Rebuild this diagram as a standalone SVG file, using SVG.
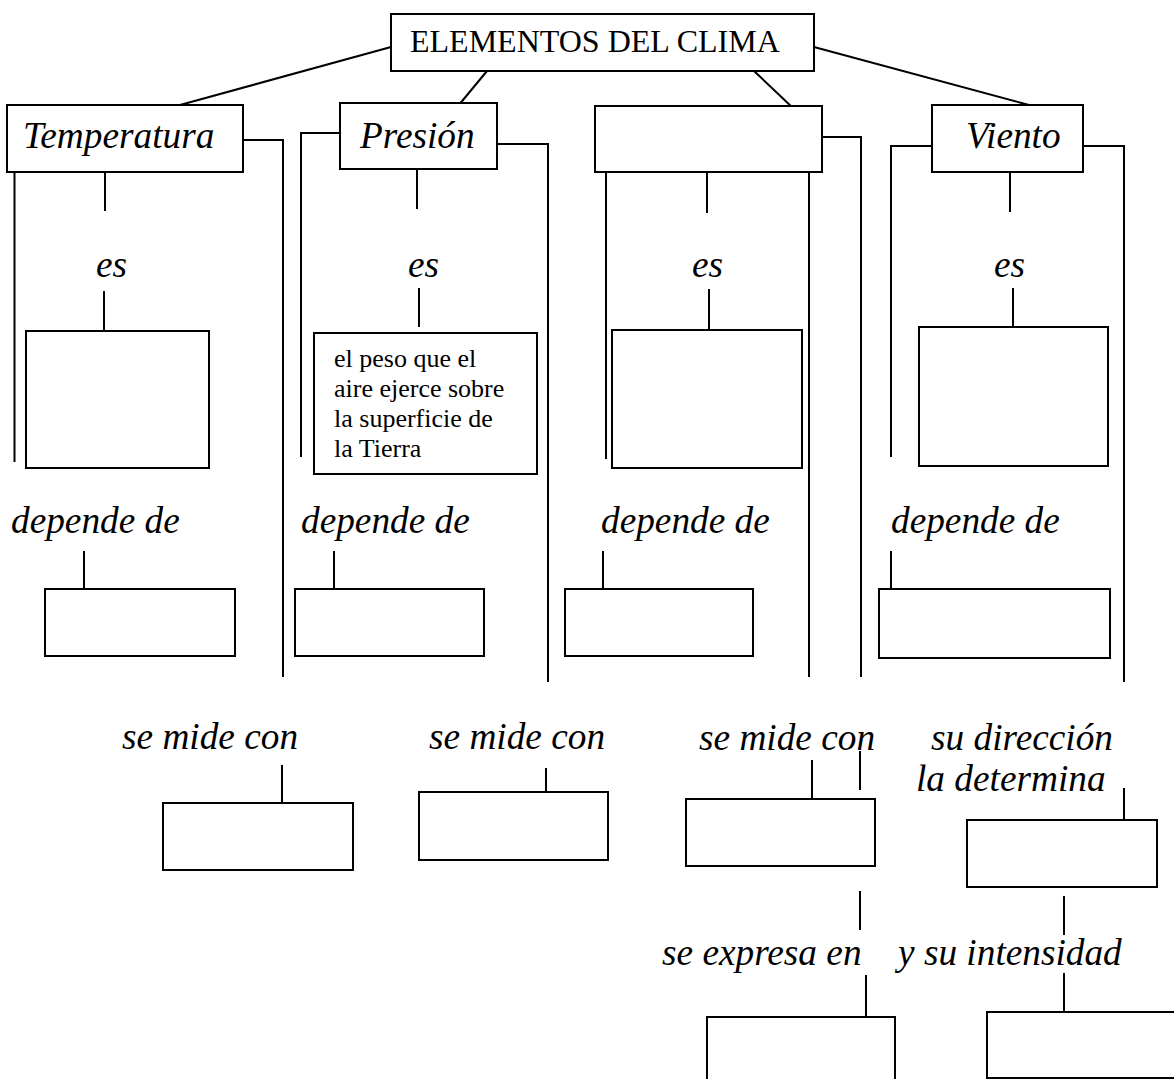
<svg xmlns="http://www.w3.org/2000/svg" width="1174" height="1079" viewBox="0 0 1174 1079">
<style>
.box{fill:#fff;stroke:#000;stroke-width:2}
.ln{stroke:#000;stroke-width:2;fill:none}
.lbl{font-family:"Liberation Serif","Times New Roman",serif;font-style:italic;font-size:37.3px;fill:#000}
.ttl{font-family:"Liberation Serif","Times New Roman",serif;font-size:32px;fill:#000}
.sm{font-family:"Liberation Serif","Times New Roman",serif;font-size:26px;fill:#000}
</style>
<rect width="1174" height="1079" fill="#fff"/>
<g id="connectors">
<line class="ln" x1="391" y1="47" x2="180" y2="105"/>
<line class="ln" x1="487" y1="71" x2="458" y2="106"/>
<line class="ln" x1="754" y1="71" x2="793" y2="108"/>
<line class="ln" x1="814" y1="47" x2="1029" y2="105"/>
<polyline class="ln" points="243,140 283,140 283,677"/>
<line class="ln" x1="14.5" y1="172" x2="14.5" y2="462"/>
<line class="ln" x1="105" y1="172" x2="105" y2="211"/>
<polyline class="ln" points="340,133 301,133 301,457"/>
<polyline class="ln" points="497,144 548,144 548,682"/>
<line class="ln" x1="417" y1="169" x2="417" y2="209"/>
<polyline class="ln" points="822,137 861,137 861,677"/>
<line class="ln" x1="606" y1="172" x2="606" y2="459"/>
<line class="ln" x1="707" y1="172" x2="707" y2="213"/>
<line class="ln" x1="809" y1="172" x2="809" y2="677"/>
<polyline class="ln" points="932,146 891,146 891,457"/>
<polyline class="ln" points="1083,146 1124,146 1124,682"/>
<line class="ln" x1="1010" y1="172" x2="1010" y2="212"/>
<line class="ln" x1="104" y1="291" x2="104" y2="331"/>
<line class="ln" x1="419" y1="288" x2="419" y2="327"/>
<line class="ln" x1="709" y1="289" x2="709" y2="330"/>
<line class="ln" x1="1013" y1="288" x2="1013" y2="327"/>
<line class="ln" x1="84" y1="551" x2="84" y2="589"/>
<line class="ln" x1="334" y1="551" x2="334" y2="589"/>
<line class="ln" x1="603" y1="551" x2="603" y2="589"/>
<line class="ln" x1="891" y1="551" x2="891" y2="590"/>
<line class="ln" x1="282" y1="765" x2="282" y2="803"/>
<line class="ln" x1="546" y1="768" x2="546" y2="798"/>
<line class="ln" x1="812" y1="760" x2="812" y2="799"/>
<line class="ln" x1="860" y1="751" x2="860" y2="790"/>
<line class="ln" x1="1124" y1="788" x2="1124" y2="820"/>
<line class="ln" x1="860" y1="891" x2="860" y2="930"/>
<line class="ln" x1="866" y1="975" x2="866" y2="1017"/>
<line class="ln" x1="1064" y1="896" x2="1064" y2="935"/>
<line class="ln" x1="1064" y1="973" x2="1064" y2="1012"/>
</g>
<g id="labels">
<text class="lbl" x="96" y="277">es</text>
<text class="lbl" x="408" y="277">es</text>
<text class="lbl" x="692" y="277">es</text>
<text class="lbl" x="994" y="277">es</text>
<text class="lbl" x="11" y="533">depende de</text>
<text class="lbl" x="301" y="533">depende de</text>
<text class="lbl" x="601" y="533">depende de</text>
<text class="lbl" x="891" y="533">depende de</text>
<text class="lbl" x="122" y="749">se mide con</text>
<text class="lbl" x="429" y="749">se mide con</text>
<text class="lbl" x="699" y="750">se mide con</text>
<text class="lbl" x="931" y="750">su dirección</text>
<text class="lbl" x="916" y="791">la determina</text>
<text class="lbl" x="662" y="965">se expresa en</text>
<text class="lbl" x="898" y="965">y su intensidad</text>
</g>
<g id="title"><rect class="box" x="391" y="14" width="423" height="57"/><text class="ttl" x="410" y="52">ELEMENTOS DEL CLIMA</text></g>
<g id="temperatura"><rect class="box" x="7" y="105" width="236" height="67"/><text class="lbl" x="23" y="148">Temperatura</text></g>
<g id="presion"><rect class="box" x="340" y="103" width="157" height="66"/><text class="lbl" x="360" y="148">Presión</text></g>
<g id="elemento3"><rect class="box" x="595" y="106" width="227" height="66"/></g>
<g id="viento"><rect class="box" x="932" y="105" width="151" height="67"/><text class="lbl" x="966" y="148">Viento</text></g>
<g id="temperatura-es"><rect class="box" x="26" y="331" width="183" height="137"/></g>
<g id="presion-es"><rect class="box" x="314" y="333" width="223" height="141"/>
<text class="sm" x="334" y="367">el peso que el</text>
<text class="sm" x="334" y="397">aire ejerce sobre</text>
<text class="sm" x="334" y="427">la superficie de</text>
<text class="sm" x="334" y="457">la Tierra</text></g>
<g id="elemento3-es"><rect class="box" x="612" y="330" width="190" height="138"/></g>
<g id="viento-es"><rect class="box" x="919" y="327" width="189" height="139"/></g>
<g id="temperatura-dep"><rect class="box" x="45" y="589" width="190" height="67"/></g>
<g id="presion-dep"><rect class="box" x="295" y="589" width="189" height="67"/></g>
<g id="elemento3-dep"><rect class="box" x="565" y="589" width="188" height="67"/></g>
<g id="viento-dep"><rect class="box" x="879" y="589" width="231" height="69"/></g>
<g id="temperatura-mide"><rect class="box" x="163" y="803" width="190" height="67"/></g>
<g id="presion-mide"><rect class="box" x="419" y="792" width="189" height="68"/></g>
<g id="elemento3-mide"><rect class="box" x="686" y="799" width="189" height="67"/></g>
<g id="viento-direccion"><rect class="box" x="967" y="820" width="190" height="67"/></g>
<g id="elemento3-expresa"><rect class="box" x="707" y="1017" width="188" height="80"/></g>
<g id="viento-intensidad"><rect class="box" x="987" y="1012" width="200" height="66"/></g>
</svg>
